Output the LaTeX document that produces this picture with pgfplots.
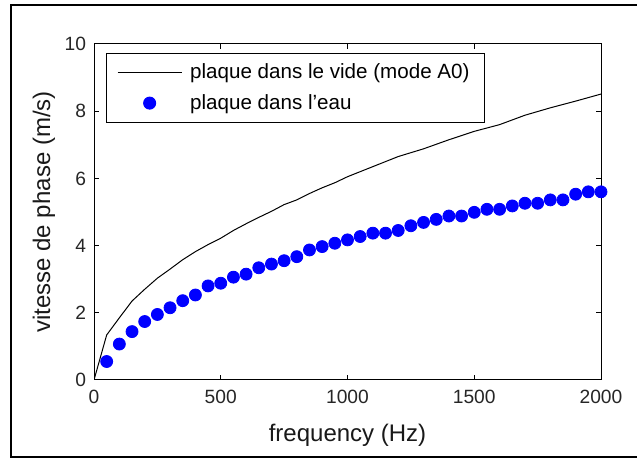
\documentclass[border=0pt]{standalone}
\usepackage{fontspec}
\setmainfont{Liberation Sans}
\usepackage{pgfplots}
\pgfplotsset{compat=1.18}
\pgfplotsset{
  legline/.style={legend image code/.code={\draw[##1] (0pt,0pt) -- (32pt,0pt); \path (34pt,0pt);}},
  legmark/.style={legend image code/.code={\draw[##1] plot coordinates {(16pt,0pt)}; \path (0pt,0pt) (34pt,0pt);}},
}
\begin{document}
\begin{tikzpicture}
\useasboundingbox (0,0) rectangle (318.5pt,229.5pt);
\draw[line width=1pt,black] (320pt,227pt) -- (5.5pt,227pt) -- (5.5pt,1pt) -- (320pt,1pt);
\begin{axis}[
  at={(47pt,39.5pt)}, anchor=south west,
  scale only axis, width=253.5pt, height=168pt,
  xmin=0, xmax=2000, ymin=0, ymax=10,
  xtick={0,500,1000,1500,2000}, ytick={0,2,4,6,8,10},
  tick align=inside, major tick length=2.5pt,
  axis line style={line width=0.5pt},
  every tick/.style={line width=0.5pt,black},
  /pgf/number format/assume math mode=true,
  /pgf/number format/1000 sep={},
  tick label style={font=\fontsize{9.6}{11}\selectfont, text=black!85},
  xticklabel style={yshift=-1.5pt},
  yticklabel style={xshift=-0.5pt},
  label style={font=\fontsize{12}{14}\selectfont, text=black!90},
  xlabel={frequency (Hz)},
  ylabel={vitesse de phase (m/s)},
  xlabel style={at={(axis description cs:0.5,-0.164)}, anchor=center},
  ylabel style={at={(axis description cs:-0.099,0.5)}, anchor=center},
  legend style={at={(axis description cs:0.023,0.974)}, anchor=north west,
    font=\fontsize{10.3}{12}\selectfont, draw=black, line width=0.5pt,
    inner xsep=5.5pt, inner ysep=3pt, row sep=2.5pt,
    cells={anchor=west}},
  legend cell align=left,
]
\addplot[black, line width=0.5pt, no markers, legline] coordinates {
(0,0) (50,1.34) (100,1.85) (150,2.35) (200,2.70) (250,3.03) (300,3.30)
(350,3.58) (400,3.82) (450,4.03) (500,4.22) (550,4.45) (600,4.65)
(650,4.84) (700,5.02) (750,5.22) (800,5.36) (850,5.55) (900,5.72)
(950,5.87) (1000,6.05) (1100,6.35) (1200,6.65) (1300,6.88) (1400,7.15)
(1500,7.40) (1600,7.60) (1700,7.88) (1800,8.10) (1900,8.30) (2000,8.51)
};
\addlegendentry{plaque dans le vide (mode A0)}
\addplot[only marks, mark=*, mark size=3pt, color=blue, mark options={fill=blue, draw=blue}, legmark] coordinates {
(50,0.55) (100,1.07) (150,1.44) (200,1.74) (250,1.95) (300,2.15)
(350,2.36) (400,2.53) (450,2.80) (500,2.88) (550,3.06) (600,3.15)
(650,3.34) (700,3.45) (750,3.55) (800,3.67) (850,3.87) (900,3.97)
(950,4.07) (1000,4.17) (1050,4.27) (1100,4.37) (1150,4.37) (1200,4.45)
(1250,4.59) (1300,4.69) (1350,4.78) (1400,4.88) (1450,4.88) (1500,4.99)
(1550,5.08) (1600,5.08) (1650,5.18) (1700,5.26) (1750,5.26) (1800,5.36)
(1850,5.36) (1900,5.53) (1950,5.60) (2000,5.60)
};
\addlegendentry{plaque dans l'eau}
\end{axis}
\end{tikzpicture}
\end{document}
